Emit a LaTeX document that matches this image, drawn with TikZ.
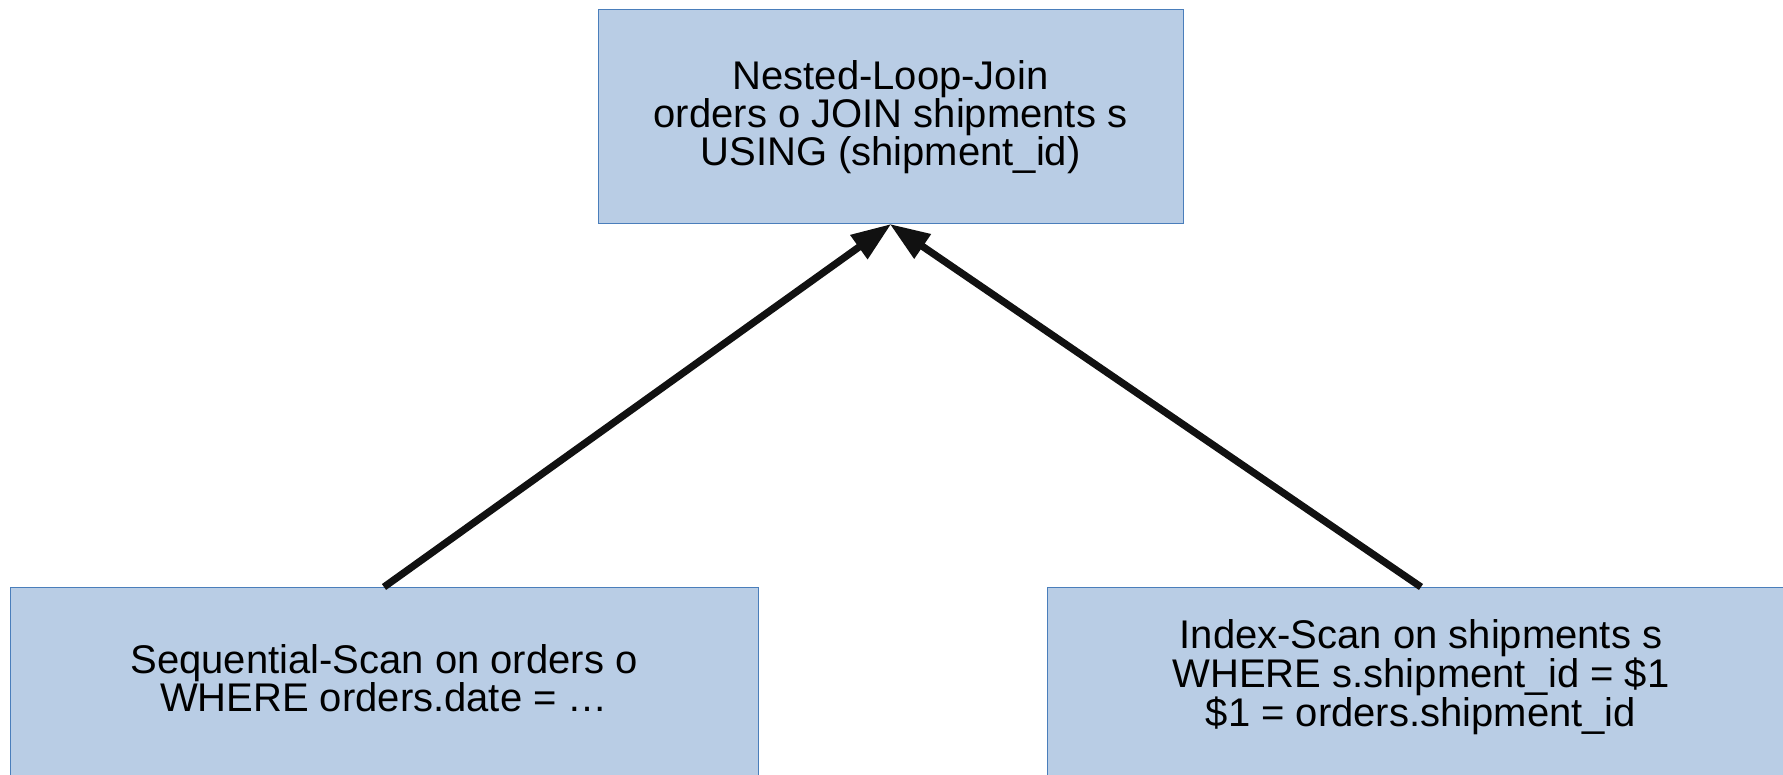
\documentclass[tikz,border=0pt]{standalone}
\usepackage{fontspec}
\setmainfont{Liberation Sans}
\usetikzlibrary{arrows.meta}
\definecolor{boxfill}{HTML}{B9CDE5}
\definecolor{boxline}{HTML}{4A7EBB}
\definecolor{arrowcol}{HTML}{111111}
\tikzset{
  planbox/.style={draw=boxline, line width=1pt, fill=boxfill, rectangle, inner sep=0pt},
  plantext/.style={align=center, font=\fontsize{40}{36.5}\selectfont, inner sep=0pt},
  flow/.style={draw=arrowcol, line width=7.2pt, -{Triangle[length=40pt,width=28pt]}, shorten >=-1pt}
}
\begin{document}
\begin{tikzpicture}[x=1pt,y=-1pt]
\useasboundingbox (0,0) rectangle (1783,775);
\fill[white] (0,0) rectangle (1783,775);
% boxes
\node[planbox, minimum width=585pt, minimum height=214pt] (join) at (890.5,117) {};
\node[planbox, minimum width=748pt, minimum height=214pt, anchor=north] (seq) at (384,587) {};
\node[planbox, minimum width=748pt, minimum height=214pt, anchor=north] (idx) at (1421,587) {};
% texts
\node[plantext] (jointext) at (join.center) {Nested-Loop-Join\\orders o JOIN shipments s\\USING (shipment\_id)};
\node[plantext] (seqtext) at ([yshift=-91pt]seq.north) {Sequential-Scan on orders o\\WHERE orders.date = \dots};
\node[plantext] (idxtext) at ([yshift=-90pt]idx.north) {Index-Scan on shipments s\\WHERE s.shipment\_id = \$1\\\$1 = orders.shipment\_id};
% connectors
\draw[flow] (seq.north) -- (join.south);
\draw[flow] (idx.north) -- (join.south);
\end{tikzpicture}
\end{document}
